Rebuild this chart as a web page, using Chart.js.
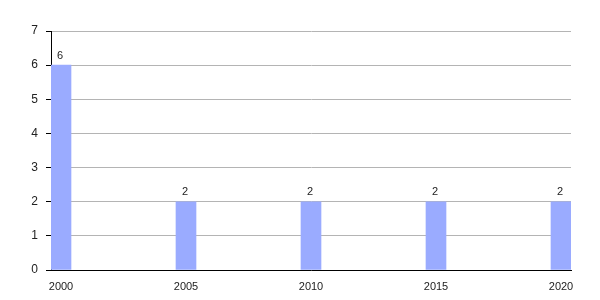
<!DOCTYPE html>
<html>
<head>
<meta charset="utf-8">
<script src="https://cdn.jsdelivr.net/npm/chart.js@4"></script>
<style>
  html, body { margin: 0; padding: 0; background: #fff; }
  #wrap { width: 600px; height: 300px; }
</style>
</head>
<body>
<div id="wrap"><canvas id="grafico"></canvas></div>
<script>
const anos = [2000, 2005, 2010, 2015, 2020];
const valores = [6, 2, 2, 2, 2];
const ticksY = [0, 1, 2, 3, 4, 5, 6, 7];

const ctx = document.getElementById('grafico').getContext('2d');

// rótulos de valor acima das barras
const rotulosBarras = {
  id: 'rotulosBarras',
  afterDatasetsDraw(chart) {
    const c = chart.ctx;
    const meta = chart.getDatasetMeta(0);
    c.save();
    c.font = '11px "Liberation Sans", Arial, sans-serif';
    c.fillStyle = '#222';
    c.textAlign = 'center';
    c.textBaseline = 'bottom';
    meta.data.forEach((bar, i) => {
      c.fillText(String(valores[i]), bar.x - 1, bar.y - 4);
    });
    c.restore();
  }
};

new Chart(ctx, {
  type: 'bar',
  data: {
    datasets: [{
      data: anos.map((a, i) => ({ x: a, y: valores[i] })),
      backgroundColor: '#9aabff',
      borderWidth: 0,
      barThickness: 20
    }]
  },
  options: {
    responsive: true,
    maintainAspectRatio: false,
    animation: false,
    layout: { padding: { top: 31, right: 29, left: 0, bottom: 0 } },
    plugins: { legend: { display: false }, tooltip: { enabled: false } },
    scales: {
      x: {
        type: 'linear',
        offset: false,
        min: 1999.6,
        max: 2020.4,
        afterBuildTicks: scale => { scale.ticks = anos.map(v => ({ value: v })); },
        afterFit: scale => { scale.height = 30; },
        grid: { display: false, offset: false },
        border: { display: true, color: '#000', width: 1 },
        ticks: {
          autoSkip: false,
          maxRotation: 0,
          padding: 2,
          color: '#222',
          font: { family: '"Liberation Sans", Arial, sans-serif', size: 11 },
          callback: v => String(v)
        }
      },
      y: {
        min: 0,
        max: 7,
        afterBuildTicks: scale => { scale.ticks = ticksY.map(v => ({ value: v })); },
        afterFit: scale => { scale.width = 51; },
        grid: { color: '#b4b4b4', tickColor: '#000', tickLength: 5, lineWidth: 1 },
        border: { display: true, color: '#000', width: 1 },
        ticks: {
          padding: 8,
          color: '#222',
          font: { family: '"Liberation Sans", Arial, sans-serif', size: 12 }
        }
      }
    }
  },
  plugins: [rotulosBarras]
});
</script>
</body>
</html>
